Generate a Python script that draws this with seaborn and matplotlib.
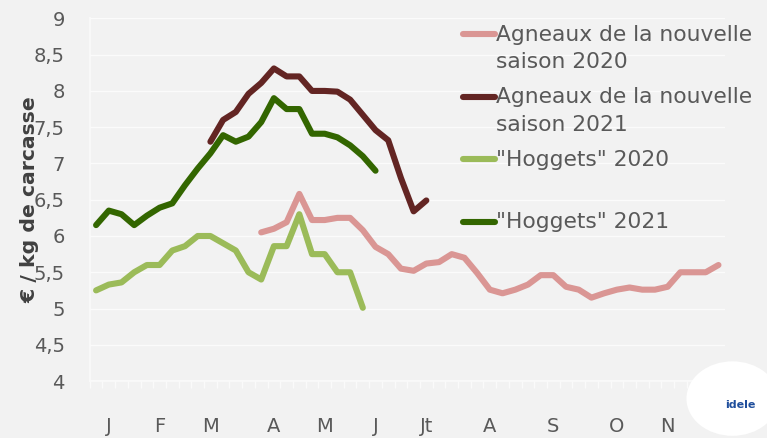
import numpy as np
import pandas as pd
import matplotlib.pyplot as plt
import matplotlib.ticker as mticker
from matplotlib.patches import Ellipse
import seaborn as sns

sns.set_theme(style='white')
plt.rcParams['font.family'] = ['DejaVu Sans']

# semaines 0..49 (une catégorie par semaine)
mois = ['J', 'F', 'M', 'A', 'M', 'J', 'Jt', 'A', 'S', 'O', 'N']
mois_semaine = [1, 5, 9, 14, 18, 22, 26, 31, 36, 41, 45]

agneaux_2020_debut = 13
agneaux_2020 = [6.05, 6.10, 6.19, 6.58, 6.22, 6.22, 6.25, 6.25, 6.08, 5.85,
                5.75, 5.55, 5.52, 5.62, 5.64, 5.75, 5.70, 5.49, 5.26, 5.21,
                5.26, 5.33, 5.46, 5.46, 5.30, 5.26, 5.15, 5.21, 5.26, 5.29,
                5.26, 5.26, 5.30, 5.50, 5.50, 5.50, 5.60]
agneaux_2021_debut = 9
agneaux_2021 = [7.30, 7.60, 7.71, 7.96, 8.11, 8.31, 8.20, 8.20, 8.00, 8.00,
                7.99, 7.88, 7.67, 7.46, 7.32, 6.80, 6.34, 6.49]
hoggets_2020_debut = 0
hoggets_2020 = [5.25, 5.33, 5.36, 5.50, 5.60, 5.60, 5.80, 5.86, 6.00, 6.00,
                5.90, 5.80, 5.50, 5.40, 5.86, 5.86, 6.30, 5.75, 5.75, 5.50,
                5.50, 5.01]
hoggets_2021_debut = 0
hoggets_2021 = [6.15, 6.35, 6.30, 6.15, 6.28, 6.39, 6.45, 6.70, 6.93, 7.14,
                7.39, 7.30, 7.37, 7.57, 7.90, 7.75, 7.75, 7.41, 7.41, 7.36,
                7.25, 7.10, 6.90]

series = {
    'Agneaux de la nouvelle\nsaison 2020': (agneaux_2020_debut, agneaux_2020),
    'Agneaux de la nouvelle\nsaison 2021': (agneaux_2021_debut, agneaux_2021),
    '"Hoggets" 2020\n': (hoggets_2020_debut, hoggets_2020),
    '"Hoggets" 2021': (hoggets_2021_debut, hoggets_2021),
}
couleurs = ['#DA9694', '#632523', '#9BBB59', '#336600']

rows = []
for nom, (debut, vals) in series.items():
    for k, v in enumerate(vals):
        rows.append({'semaine': debut + k, 'prix': v, 'serie': nom})
df = pd.DataFrame(rows)

bg = '#F2F2F2'
fig = plt.figure(figsize=(7.67, 4.38), dpi=100, facecolor=bg)
ax = fig.add_axes([0.117, 0.130, 0.828, 0.828], facecolor=bg)

sns.lineplot(data=df, x='semaine', y='prix', hue='serie',
             hue_order=list(series.keys()),
             palette=dict(zip(series.keys(), couleurs)),
             linewidth=4.4, ax=ax, legend=True)
for l in ax.lines:
    l.set_solid_capstyle('round')
    l.set_solid_joinstyle('round')

ax.set_xlim(-0.5, 49.5)
ax.set_ylim(4, 9)
ax.set_yticks(np.arange(4, 9.01, 0.5))
ax.yaxis.set_major_formatter(mticker.FuncFormatter(
    lambda v, p: ('%g' % v).replace('.', ',')))
ax.yaxis.grid(True, color='#FBFBFB', linewidth=1)
ax.tick_params(axis='y', length=0, pad=18, labelsize=14, labelcolor='#595959')

ax.set_xticks(mois_semaine)
ax.set_xticklabels(mois)
ax.set_xticks(np.arange(-0.5, 50, 1), minor=True)
ax.tick_params(axis='x', which='major', length=0, pad=26, labelsize=14,
               labelcolor='#595959')
ax.tick_params(axis='x', which='minor', bottom=True, length=5, width=1,
               color='#FAFAFA')

for s in ['top', 'right']:
    ax.spines[s].set_visible(False)
ax.spines['left'].set_color('#FAFAFA')
ax.spines['bottom'].set_color('#FAFAFA')

ax.set_xlabel('')
ax.set_ylabel('€ / kg de carcasse', fontsize=14.7, fontweight='bold',
              color='#404040')
ax.yaxis.set_label_coords(-0.08, 0.5)

handles, labels = ax.get_legend_handles_labels()
leg = ax.legend(handles, labels, loc='upper left',
                bbox_to_anchor=(0.603, 0.944), bbox_transform=fig.transFigure,
                frameon=False, fontsize=15.7, handlelength=1.5,
                handletextpad=0.05, handleheight=1.35, labelspacing=0.68,
                borderpad=0, borderaxespad=0)
for t in leg.get_texts():
    t.set_color('#595959')
    t.set_linespacing(1.48)
for col in leg._legend_handle_box.get_children():
    for item in col.get_children():
        item.align = 'top'

# logo idele (approximation)
fig.patches.append(Ellipse((0.955, 0.09), 0.12, 0.17, transform=fig.transFigure,
                           facecolor='white', edgecolor='none'))
fig.text(0.985, 0.075, 'idele', color='#1F4E9C', fontsize=8,
         fontweight='bold', ha='right', va='center')

fig.savefig('out.png', dpi=100, facecolor=bg)
